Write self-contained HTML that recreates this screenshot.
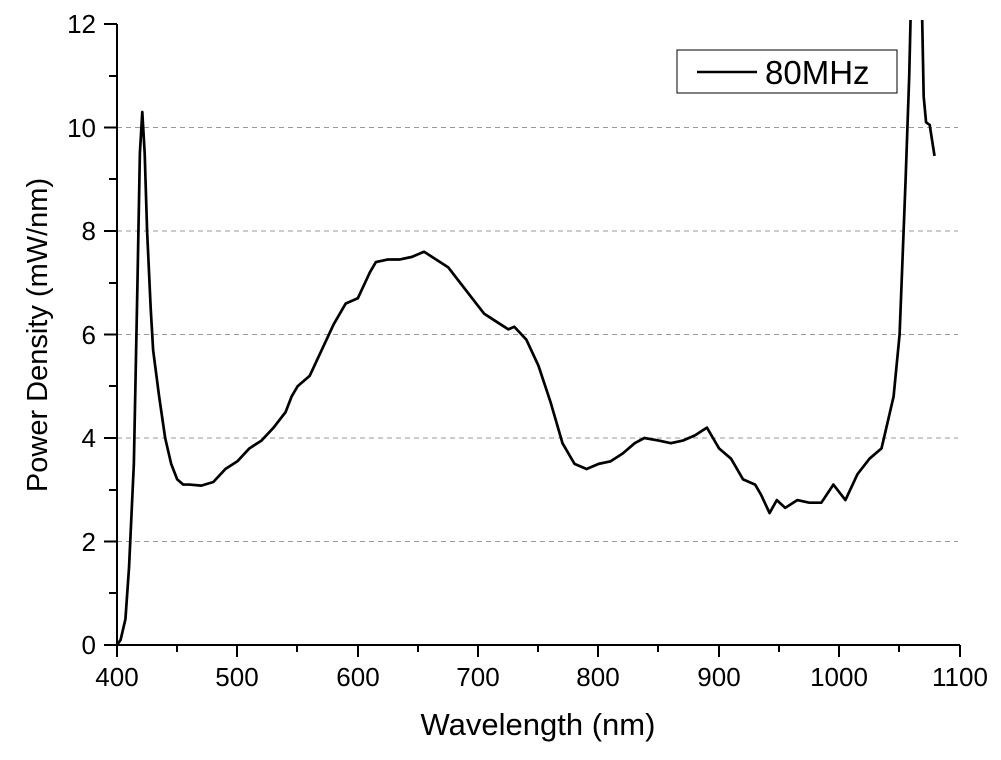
<!DOCTYPE html>
<html><head><meta charset="utf-8"><style>
body{margin:0;background:#fff;}
svg{display:block;font-family:"Liberation Sans",Arial,sans-serif;}
</style></head><body>
<svg width="1001" height="760" viewBox="0 0 1001 760" xmlns="http://www.w3.org/2000/svg">
<defs><clipPath id="c"><rect x="116" y="20" width="850" height="626"/></clipPath></defs>
<g stroke="#999" stroke-width="1" stroke-dasharray="5,4">
<line x1="117" y1="541.5" x2="958" y2="541.5"/>
<line x1="117" y1="438" x2="958" y2="438"/>
<line x1="117" y1="334.5" x2="958" y2="334.5"/>
<line x1="117" y1="231" x2="958" y2="231"/>
<line x1="117" y1="127.5" x2="958" y2="127.5"/>
</g>
<g stroke="#000" stroke-width="2" fill="none">
<line x1="117" y1="24" x2="117" y2="646"/>
<line x1="116" y1="645" x2="960" y2="645"/>
<line x1="104" y1="24" x2="117" y2="24"/><line x1="109" y1="76" x2="117" y2="76"/>
<line x1="104" y1="127.5" x2="117" y2="127.5"/><line x1="109" y1="179" x2="117" y2="179"/>
<line x1="104" y1="231" x2="117" y2="231"/><line x1="109" y1="283" x2="117" y2="283"/>
<line x1="104" y1="334.5" x2="117" y2="334.5"/><line x1="109" y1="386" x2="117" y2="386"/>
<line x1="104" y1="438" x2="117" y2="438"/><line x1="109" y1="490" x2="117" y2="490"/>
<line x1="104" y1="541.5" x2="117" y2="541.5"/><line x1="109" y1="593" x2="117" y2="593"/>
<line x1="104" y1="645" x2="117" y2="645"/>
<line x1="117" y1="645" x2="117" y2="657"/><line x1="177" y1="645" x2="177" y2="652"/>
<line x1="237" y1="645" x2="237" y2="657"/><line x1="297" y1="645" x2="297" y2="652"/>
<line x1="358" y1="645" x2="358" y2="657"/><line x1="418" y1="645" x2="418" y2="652"/>
<line x1="478" y1="645" x2="478" y2="657"/><line x1="538" y1="645" x2="538" y2="652"/>
<line x1="598" y1="645" x2="598" y2="657"/><line x1="658" y1="645" x2="658" y2="652"/>
<line x1="719" y1="645" x2="719" y2="657"/><line x1="779" y1="645" x2="779" y2="652"/>
<line x1="839" y1="645" x2="839" y2="657"/><line x1="899" y1="645" x2="899" y2="652"/>
<line x1="960" y1="645" x2="960" y2="657"/>
</g>
<g font-size="26" fill="#000" text-anchor="end">
<text x="96" y="33">12</text><text x="96" y="137">10</text><text x="96" y="240">8</text>
<text x="96" y="344">6</text><text x="96" y="447">4</text><text x="96" y="551">2</text><text x="96" y="654">0</text>
</g>
<g font-size="26" fill="#000" text-anchor="middle">
<text x="117" y="686">400</text><text x="237" y="686">500</text><text x="358" y="686">600</text>
<text x="478" y="686">700</text><text x="598" y="686">800</text><text x="719" y="686">900</text>
<text x="839" y="686">1000</text><text x="960" y="686">1100</text>
</g>
<text x="538" y="735" font-size="31" text-anchor="middle">Wavelength (nm)</text>
<text transform="translate(47,335) rotate(-90)" font-size="29" text-anchor="middle">Power Density (mW/nm)</text>
<rect x="677" y="50" width="220" height="43" fill="#fff" stroke="#000" stroke-width="1"/>
<line x1="697" y1="72" x2="757" y2="72" stroke="#000" stroke-width="2.5"/>
<text x="765" y="84" font-size="33">80MHz</text>
<g clip-path="url(#c)">
<g transform="matrix(1.204,0,0,-51.75,-364.6,645)">
<polyline vector-effect="non-scaling-stroke" fill="none" stroke="#000" stroke-width="2.7" stroke-linejoin="round" points="400,0 403,0.1 407,0.5 410,1.5 414,3.5 417,7 419,9.5 421,10.3 423,9.5 425,8 428,6.5 430,5.7 435,4.8 440,4 445,3.5 450,3.2 455,3.1 460,3.1 470,3.08 480,3.15 490,3.4 500,3.55 510,3.8 520,3.95 530,4.2 540,4.5 545,4.8 550,5 560,5.2 570,5.7 580,6.2 590,6.6 600,6.7 610,7.2 615,7.4 625,7.45 635,7.45 645,7.5 655,7.6 665,7.45 675,7.3 685,7 695,6.7 705,6.4 715,6.25 725,6.1 730,6.15 740,5.9 750,5.4 760,4.7 770,3.9 780,3.5 790,3.4 800,3.5 810,3.55 820,3.7 830,3.9 838,4 850,3.95 860,3.9 870,3.95 880,4.05 890,4.2 895,4 900,3.8 910,3.6 920,3.2 930,3.1 935,2.9 942,2.55 948,2.8 955,2.65 965,2.8 975,2.75 985,2.75 995,3.1 1005,2.8 1015,3.3 1025,3.6 1035,3.8 1042,4.5 1045,4.8 1050,6 1055,9 1058,11 1060,13"/>
<polyline vector-effect="non-scaling-stroke" fill="none" stroke="#000" stroke-width="2.7" stroke-linejoin="round" points="1068,13 1070,10.6 1072,10.1 1075,10.05 1079,9.45"/>
</g>
</g>
</svg>
</body></html>
